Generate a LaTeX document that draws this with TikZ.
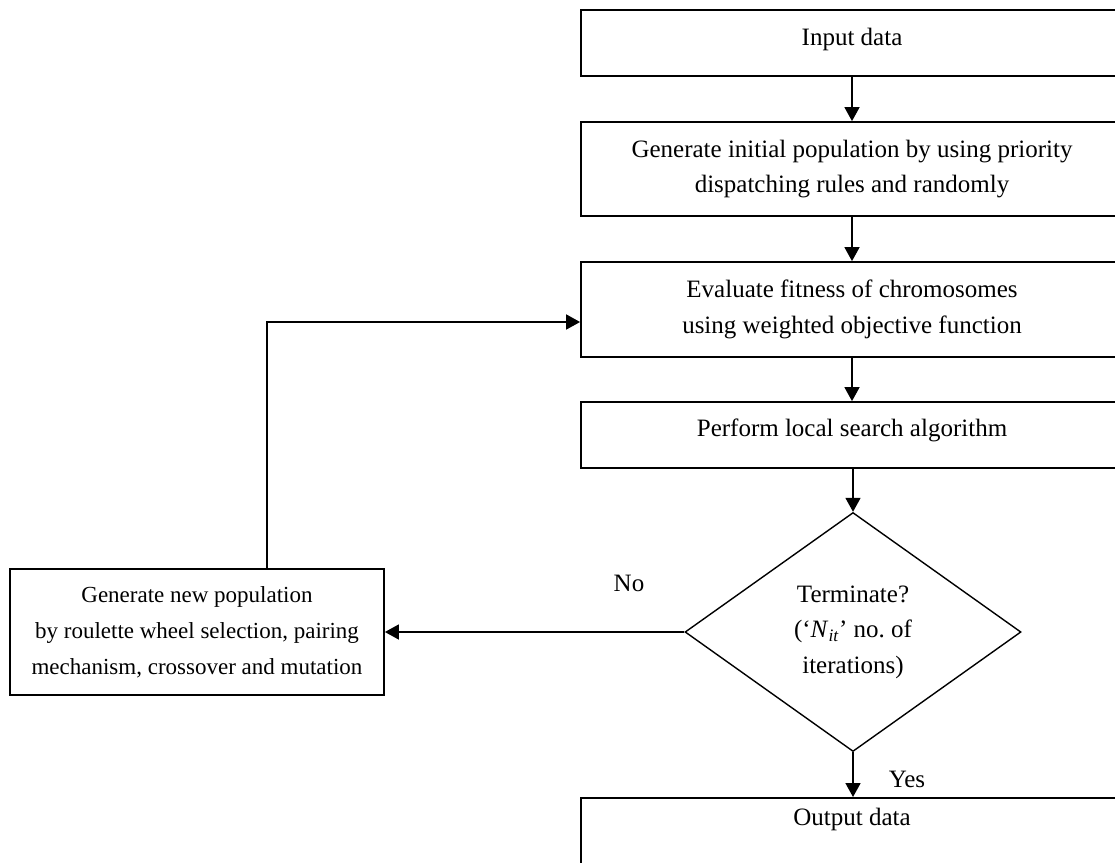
\documentclass[tikz,border=0pt]{standalone}
\usepackage{fontspec}
\setmainfont{Liberation Serif}
\usetikzlibrary{shapes.geometric,arrows.meta}
\tikzset{
  txt/.style={font=\fontsize{25}{35.5}\selectfont},
  box/.style={draw, line width=1.8pt, rectangle, inner sep=0pt, align=center, txt},
  decision/.style={draw, line width=1.4pt, diamond, inner sep=0pt, align=center, txt},
  lbl/.style={inner sep=0pt, txt},
  arr/.style={line width=1.7pt, -{Triangle[length=14pt,width=15pt]}}
}
\begin{document}
\begin{tikzpicture}[x=1pt,y=-1pt]
\useasboundingbox (0,0) rectangle (1115,862);
\clip (0,0) rectangle (1115,862);

% main column of process boxes
\node[box, minimum width=542, minimum height=66] (in) at (852,43) {};
\node[lbl] (int) at (852,39) {Input data};
\node[box, minimum width=542, minimum height=94] (gen) at (852,169)
  {Generate initial population by using priority\\dispatching rules and randomly};
\node[box, minimum width=542, minimum height=95] (eval) at (852,309.5)
  {Evaluate fitness of chromosomes\\using weighted objective function};
\node[box, minimum width=542, minimum height=66] (perf) at (852,435) {};
\node[lbl] (perft) at (852,430) {Perform local search algorithm};

% termination test
\node[decision, minimum width=336, minimum height=239] (term) at (853,632)
  {Terminate?\\(`\textit{N}\textsubscript{\textit{it}}' no.\ of\\iterations)};

% output box, running past the lower edge
\node[box, minimum width=542, minimum height=70, anchor=north] (out) at (852,797) {};
\node[lbl] (outt) at (852,819) {Output data};

% new population box on the left
\node[box, minimum width=374, minimum height=126, font=\fontsize{23}{36}\selectfont]
  (newpop) at (197,632)
  {Generate new population\\by roulette wheel selection, pairing\\mechanism, crossover and mutation};

% branch labels
\node[lbl] (no) at (629,583) {No};
\node[lbl] (yes) at (907,779) {Yes};

% connectors
\draw[arr] (in.south) -- (gen.north);
\draw[arr] (gen.south) -- (eval.north);
\draw[arr] (eval.south) -- (perf.north);
\draw[arr] (perf.south -| term.north) -- (term.north);
\draw[arr] (term.south) -- (out.north -| term.south);
\draw[arr] (term.west) -- (term.west -| newpop.east);
\draw[arr] ([xshift=70]newpop.north) |- ([yshift=-12.5]eval.west);
\end{tikzpicture}
\end{document}
